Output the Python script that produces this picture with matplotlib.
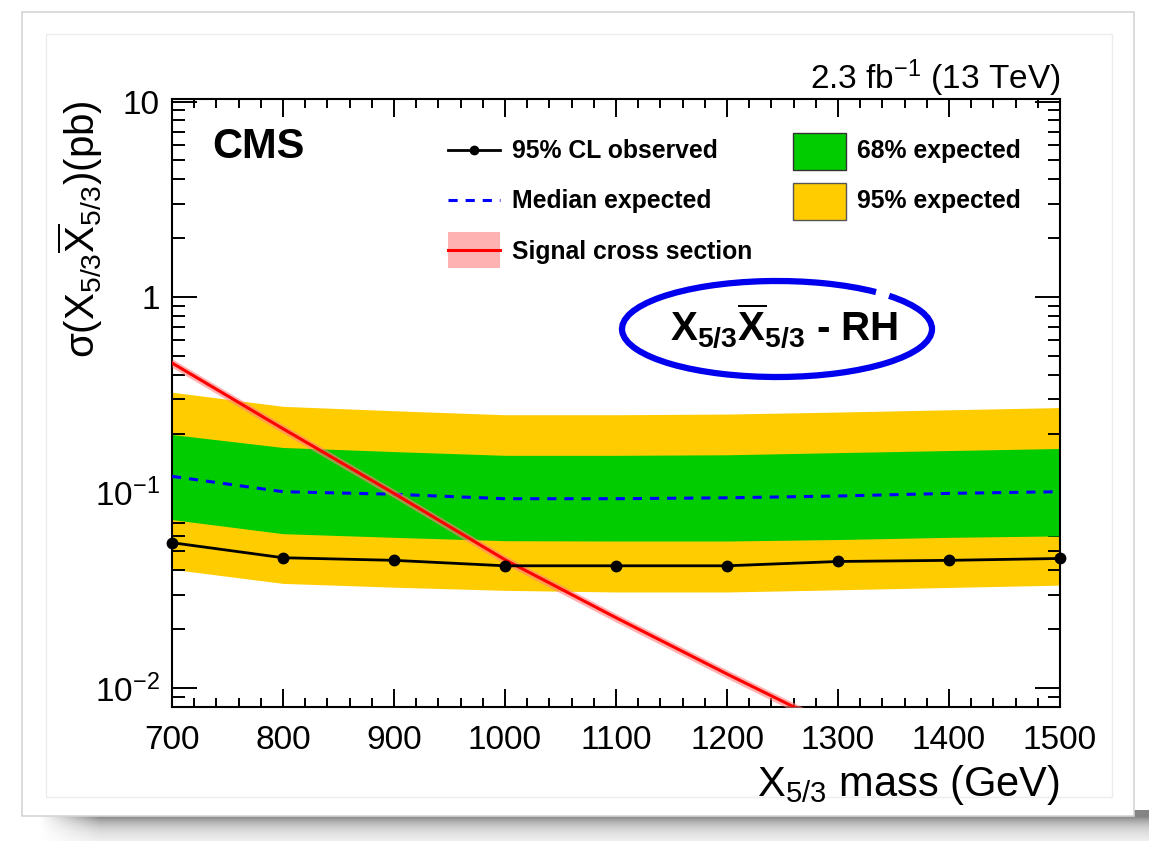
import numpy as np
import matplotlib
matplotlib.use("Agg")
import matplotlib.pyplot as plt
from matplotlib.patches import Rectangle, Arc
from matplotlib.lines import Line2D
from matplotlib.ticker import MultipleLocator, LogLocator, FixedFormatter, FixedLocator, NullFormatter

plt.rcParams['font.family'] = ['Liberation Sans', 'DejaVu Sans']
plt.rcParams['mathtext.fontset'] = 'custom'
plt.rcParams['mathtext.rm'] = 'Liberation Sans'
plt.rcParams['mathtext.sf'] = 'Liberation Sans'
plt.rcParams['mathtext.it'] = 'Liberation Sans:italic'
plt.rcParams['mathtext.bf'] = 'Liberation Sans:bold'

# ---------------- data ----------------
mass = [700, 800, 900, 1000, 1100, 1200, 1300, 1400, 1500]
observed = [0.0554, 0.0464, 0.0450, 0.0422, 0.0422, 0.0422, 0.0444, 0.0450, 0.0460]
expected = [0.121, 0.101, 0.098, 0.093, 0.093, 0.094, 0.096, 0.099, 0.101]
exp68_lo = [0.0727, 0.0616, 0.0590, 0.0567, 0.0565, 0.0565, 0.0575, 0.0590, 0.0600]
exp68_hi = [0.198, 0.170, 0.162, 0.155, 0.155, 0.156, 0.160, 0.164, 0.168]
exp95_lo = [0.0405, 0.0343, 0.0328, 0.0316, 0.0310, 0.0310, 0.0318, 0.0327, 0.0336]
exp95_hi = [0.326, 0.276, 0.262, 0.250, 0.250, 0.252, 0.258, 0.265, 0.272]
signal_xs = [0.460, 0.212, 0.099, 0.0453, 0.0229, 0.0118, 0.0062, 0.0032, 0.00165]
signal_unc = 0.05  # relative band half-width

ytick_vals = [0.01, 0.1, 1, 10]
ytick_labels = [r'$10^{-2}$', r'$10^{-1}$', '1', '10']

W, H = 1149, 841
fig = plt.figure(figsize=(W / 100, H / 100), dpi=100)
fig.patch.set_facecolor('white')


def fx(x):
    return x / W


def fy(y):
    return 1 - y / H


# ---------------- decoration: card with shadow ----------------
bg = fig.add_axes([0, 0, 1, 1], zorder=-10)
bg.set_axis_off()
ys = np.arange(H)[:, None].astype(float)
xs = np.arange(W)[None, :].astype(float)
dark = 0.48 * np.exp(-np.clip(ys - 816, 0, None) / 12.0) * (ys >= 810)
hx = np.clip((xs - 40) / 60.0, 0, 1)
shadow = dark * hx
img = np.ones((H, W, 3)) * (1 - shadow[:, :, None])
bg.imshow(img, extent=[0, 1, 0, 1], aspect='auto', interpolation='bilinear')
fig.add_artist(Rectangle((fx(22), fy(816)), fx(1134 - 22), (816 - 12) / H,
                         facecolor='white', edgecolor='#d4d4d4', lw=1.2, zorder=-5))
fig.add_artist(Rectangle((fx(46), fy(797)), fx(1112 - 46), (797 - 34) / H,
                         facecolor='none', edgecolor='#ececec', lw=1.0, zorder=-4))

# ---------------- main axes ----------------
ax_l, ax_r, ax_t, ax_b = 172, 1060, 99, 707
ax = fig.add_axes([fx(ax_l), fy(ax_b), fx(ax_r - ax_l), (ax_b - ax_t) / H])
ax.set_yscale('log')
ax.set_xlim(700, 1500)
ax.set_ylim(0.0080, 10.3)

ax.fill_between(mass, exp95_lo, exp95_hi, color='#ffcc00', lw=0, zorder=1)
ax.fill_between(mass, exp68_lo, exp68_hi, color='#00cc00', lw=0, zorder=2)
ax.plot(mass, expected, color='#0000ff', lw=2.2, ls=(0, (3.0, 2.6)), zorder=3)
sig = np.array(signal_xs)
ax.fill_between(mass, sig * (1 - signal_unc), sig * (1 + signal_unc), color='#ff8080',
                alpha=0.6, lw=0, zorder=4)
ax.plot(mass, signal_xs, color='#ff0000', lw=2.2, zorder=5)
ax.plot(mass, observed, color='black', lw=2.0, marker='o', ms=7.5, zorder=6, clip_on=False)

for sp in ax.spines.values():
    sp.set_linewidth(1.5)
ax.xaxis.set_major_locator(MultipleLocator(100))
ax.xaxis.set_minor_locator(MultipleLocator(20))
ax.yaxis.set_major_locator(FixedLocator(ytick_vals))
ax.yaxis.set_major_formatter(FixedFormatter(ytick_labels))
ax.yaxis.set_minor_locator(LogLocator(base=10, subs=np.arange(2, 10)))
ax.yaxis.set_minor_formatter(NullFormatter())
ax.tick_params(which='both', direction='in', top=True, right=True, width=1.4)
ax.tick_params(axis='x', which='major', length=13, labelsize=24, pad=13)
ax.tick_params(axis='x', which='minor', length=6.5)
ax.tick_params(axis='y', which='major', length=18, labelsize=24, pad=9)
ax.tick_params(axis='y', which='minor', length=9)

# ---------------- texts ----------------
fig.text(fx(1060), fy(78), r'2.3 fb$^{-1}$ (13 TeV)', ha='right', va='center', fontsize=24)
fig.text(fx(212), fy(147), 'CMS', ha='left', va='center', fontsize=30, fontweight='bold')
fig.text(fx(1060), fy(796), r'$\mathrm{X}_{5/3}$ mass (GeV)', ha='right', va='baseline', fontsize=30)
fig.text(fx(80), fy(100), r'σ($\mathrm{X}_{5/3}\overline{\mathrm{X}}_{5/3}$)(pb)', ha='center', va='top',
         rotation=90, fontsize=29)

# ---------------- legend ----------------
lfs = 17.8
fig.add_artist(Line2D([fx(448), fx(500)], [fy(150), fy(150)], color='black', lw=2.0))
fig.add_artist(Line2D([fx(474)], [fy(150)], color='black', marker='o', ms=6))
fig.text(fx(512), fy(151), '95% CL observed', ha='left', va='center', fontsize=lfs, fontweight='bold')
fig.add_artist(Line2D([fx(448), fx(500)], [fy(200), fy(200)], color='#0000ff', lw=2.2, ls=(0, (3.0, 2.6))))
fig.text(fx(512), fy(201), 'Median expected', ha='left', va='center', fontsize=lfs, fontweight='bold')
fig.add_artist(Rectangle((fx(448), fy(268)), fx(52), 36 / H, facecolor='#ff8080', alpha=0.6, lw=0))
fig.add_artist(Line2D([fx(448), fx(500)], [fy(250), fy(250)], color='#ff0000', lw=2.2))
fig.text(fx(512), fy(252), 'Signal cross section', ha='left', va='center', fontsize=lfs, fontweight='bold')
fig.add_artist(Rectangle((fx(793), fy(170)), fx(53), 37 / H, facecolor='#00cc00', edgecolor='#333333', lw=1.0))
fig.text(fx(857), fy(151), '68% expected', ha='left', va='center', fontsize=lfs, fontweight='bold')
fig.add_artist(Rectangle((fx(793), fy(220)), fx(53), 37 / H, facecolor='#ffcc00', edgecolor='#555555', lw=1.0))
fig.text(fx(857), fy(201), '95% expected', ha='left', va='center', fontsize=lfs, fontweight='bold')

# ---------------- annotation ellipse ----------------
fig.add_artist(Arc((fx(777), fy(329)), fx(310), 96 / H, theta1=27, theta2=382,
                   color='#0000ee', lw=4.5, transform=fig.transFigure))
fig.text(fx(784), fy(326), r'$\mathbf{X}_{\mathbf{5/3}}\overline{\mathbf{X}}_{\mathbf{5/3}}$ - RH',
         ha='center', va='center', fontsize=29, fontweight='bold')

fig.savefig('out.png', dpi=100)
